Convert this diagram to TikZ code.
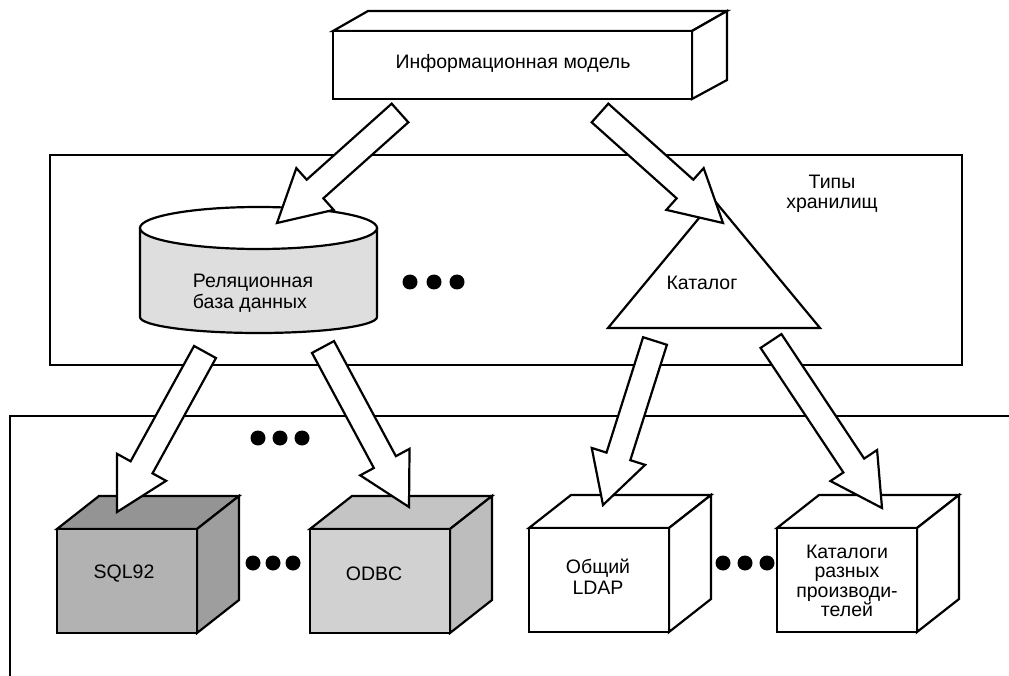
\documentclass[tikz,border=0pt]{standalone}
\usepackage{fontspec}
\setmainfont{Liberation Sans}
\usetikzlibrary{calc}

\colorlet{sqlfront}{black!30}
\colorlet{sqltop}{black!42}
\colorlet{sqlside}{black!38}
\colorlet{odbcfront}{black!18}
\colorlet{odbctop}{black!23}
\colorlet{odbcside}{black!26}
\colorlet{dbfill}{black!13}

\tikzset{
  x=1pt, y=-1pt,
  outline/.style={line width=2.2pt, line join=miter},
  txt/.style={font=\fontsize{19.5}{20.5}\selectfont, align=center, inner sep=0pt},
  dot/.style={circle, fill=black, inner sep=0pt, minimum size=15pt},
}

% hollow block arrow: #1 tail, #2 tip, #3 prefix for helper coordinates
\newcommand{\hollowarrow}[3]{%
  \coordinate (#3b) at ($(#2)!51pt!(#1)$);
  \draw[outline, fill=white]
    ($(#1)!12.5pt!90:(#2)$) -- ($(#3b)!12.5pt!90:(#2)$) -- ($(#3b)!28pt!90:(#2)$)
    -- (#2) -- ($(#3b)!28pt!-90:(#2)$) -- ($(#3b)!12.5pt!-90:(#2)$)
    -- ($(#1)!12.5pt!-90:(#2)$) -- cycle;
}

% box in perspective: front top-left at (#1,#2), colours #3 front, #4 top, #5 side
\newcommand{\crate}[5]{%
  \begin{scope}[shift={(#1,#2)}]
    \draw[outline, fill=#4] (0,0) -- (42,-33) -- (182,-33) -- (140,0) -- cycle;
    \draw[outline, fill=#5] (140,0) -- (182,-33) -- (182,71) -- (140,104) -- cycle;
    \draw[outline, fill=#3] (0,0) rectangle (140,104);
  \end{scope}
}

\begin{document}
\begin{tikzpicture}
\useasboundingbox (0,0) rectangle (1009,676);

% storage types frame and the lower interface area
\draw[outline] (50,155) rectangle (962,365);
\node[txt] (types) at (832,194) {Типы\\хранилищ};
\draw[outline] (1012,416) -- (10,416) -- (10,679);

% information model block
\draw[outline, fill=white] (333,31) -- (368,11) -- (727,11) -- (692,31) -- cycle;
\draw[outline, fill=white] (692,31) -- (727,11) -- (727,80) -- (692,99) -- cycle;
\draw[outline, fill=white] (333,31) rectangle (692,99);
\node[txt] (model) at (513,63) {Информационная модель};

% relational database cylinder
\draw[outline, fill=dbfill] (140,228) -- (140,317)
  arc[start angle=180, end angle=0, x radius=118.5, y radius=16] -- (377,228) -- cycle;
\draw[outline, fill=white] (258.5,228) ellipse[x radius=118.5, y radius=21];
\node[txt, align=left] (db) at (253,293) {Реляционная\\база данных};

% catalogue triangle
\draw[outline, fill=white] (714,200) -- (820,328) -- (608,328) -- cycle;
\node[txt] (cat) at (702,283) {Каталог};

% interface boxes
\crate{57}{529}{sqlfront}{sqltop}{sqlside}
\node[txt] (sql) at (124,574) {SQL92};
\crate{310}{529}{odbcfront}{odbctop}{odbcside}
\node[txt] (odbc) at (374,574) {ODBC};
\crate{529}{528}{white}{white}{white}
\node[txt] (ldap) at (598,577) {Общий\\LDAP};
\crate{777}{528}{white}{white}{white}
\node[txt, font=\fontsize{19.5}{19.5}\selectfont] (vendors) at (847,581) {Каталоги\\разных\\производи-\\телей};

% ellipsis dots
\foreach \px/\py [count=\i] in {410/282, 434/282, 457/282,
                                258/438, 280/438, 302/438,
                                253/563, 273/563, 293/563,
                                723/563, 745/563, 767/563}
  \node[dot] (d\i) at (\px,\py) {};

% arrow end points
\coordinate (m1) at (400,113);  \coordinate (db-in) at (277,223);
\coordinate (m2) at (600,113);  \coordinate (cat-in) at (723,223);
\coordinate (db1) at (205,352); \coordinate (sql-in) at (117,512);
\coordinate (db2) at (323,347); \coordinate (odbc-in) at (409,507);
\coordinate (cat1) at (655,341); \coordinate (ldap-in) at (603,505);
\coordinate (cat2) at (771,341); \coordinate (vend-in) at (882,508);

\hollowarrow{m1}{db-in}{a1}
\hollowarrow{m2}{cat-in}{a2}
\hollowarrow{db1}{sql-in}{a3}
\hollowarrow{db2}{odbc-in}{a4}
\hollowarrow{cat1}{ldap-in}{a5}
\hollowarrow{cat2}{vend-in}{a6}
\end{tikzpicture}
\end{document}
